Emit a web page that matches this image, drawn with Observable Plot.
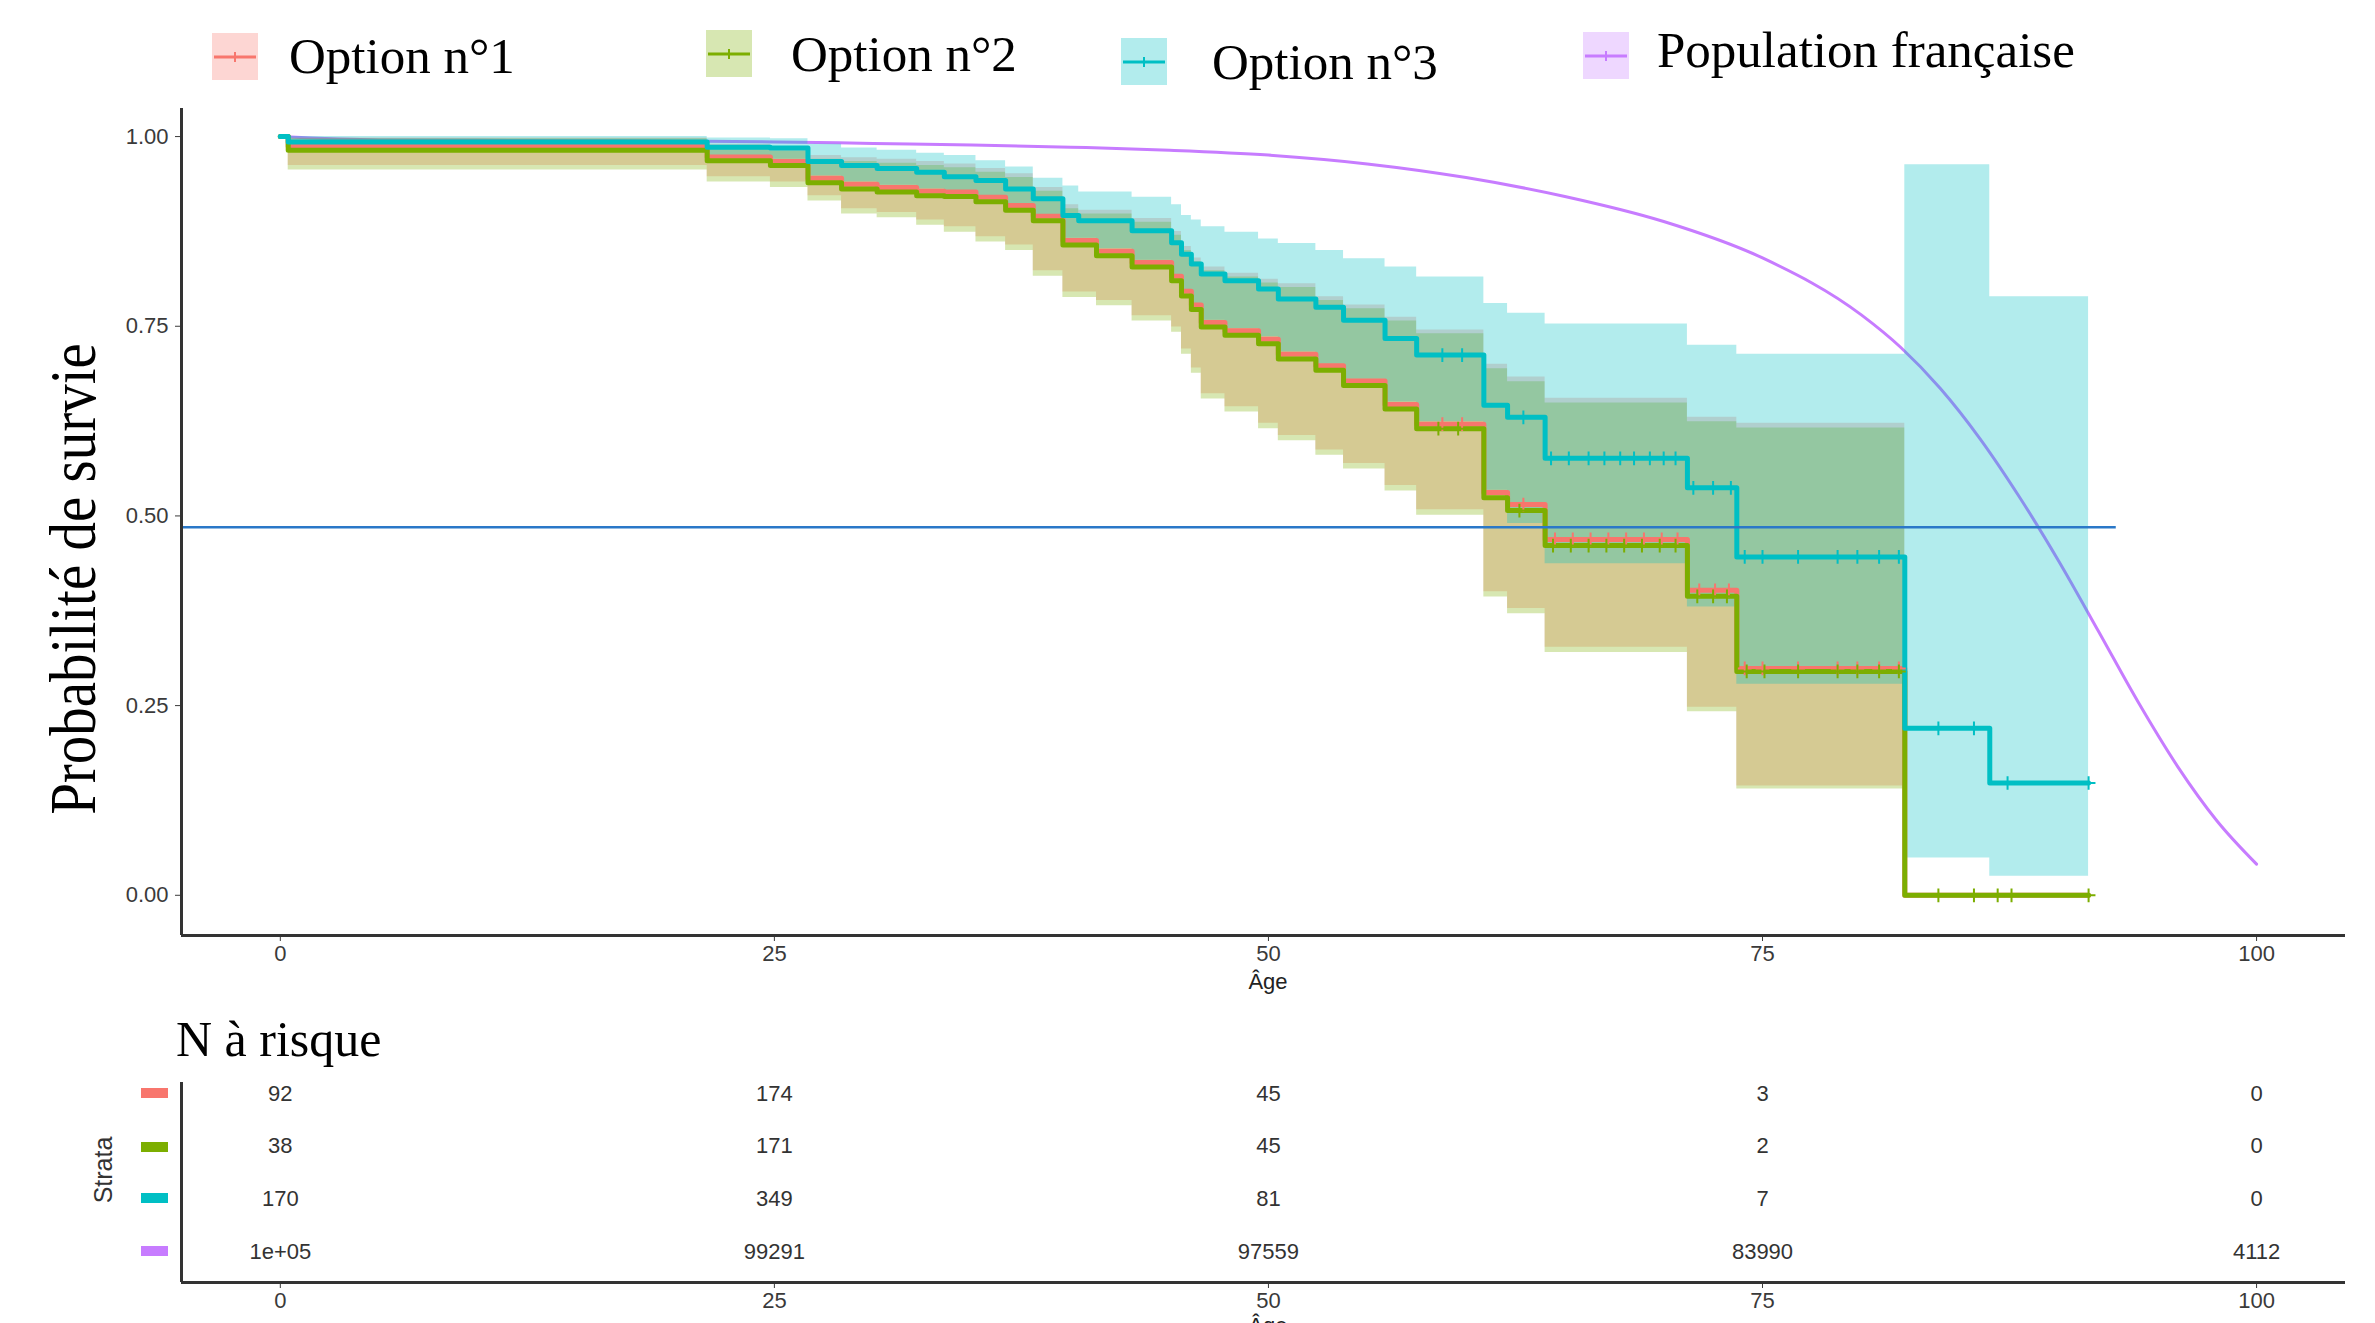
<!DOCTYPE html>
<html>
<head>
<meta charset="utf-8">
<script src="https://cdn.jsdelivr.net/npm/d3@7"></script>
<script src="https://cdn.jsdelivr.net/npm/@observablehq/plot@0.6"></script>
<style>
  html, body { margin: 0; padding: 0; background: #fff; }
  body { width: 2375px; height: 1323px; overflow: hidden; position: relative; }
  .abs { position: absolute; white-space: nowrap; }
  .serif { font-family: "Liberation Serif", "DejaVu Serif", serif; color: #000; }
  .sans { font-family: "Liberation Sans", Arial, sans-serif; color: #333; }
  #main, #risk { position: absolute; left: 0; }
  #main { top: 0; }
  #risk { top: 1000px; }
</style>
</head>
<body>
<div id="main"></div>
<div id="risk"></div>
<div id="labels"></div>
<script>
// ---------------- DATA ----------------
const seriesNames = ["Option n°1", "Option n°2", "Option n°3", "Population française"];
const seriesColors = ["#F8766D", "#7CAE00", "#00BFC4", "#C77CFF"];

// shared step times (age, years)
const ages = [0, 0.4, 21.6, 24.8, 26.7, 28.4, 30.2, 32.2, 33.6, 35.2, 36.7, 38.1, 39.6, 40.4, 41.3, 43.1, 45.1, 45.6, 46.1, 46.6, 47.8, 49.5, 50.5, 52.4, 53.8, 55.9, 57.5, 60.9, 62.1, 64.0, 71.2, 73.7, 82.2, 86.5];
const endAge = 91.5;

const opt1Surv = [1.0, 0.987, 0.973, 0.967, 0.945, 0.937, 0.933, 0.928, 0.927, 0.92, 0.909, 0.895, 0.863, 0.863, 0.849, 0.834, 0.816, 0.796, 0.778, 0.755, 0.744, 0.733, 0.713, 0.698, 0.678, 0.647, 0.621, 0.531, 0.515, 0.469, 0.402, 0.299, 0.0, 0.0];
const opt1Lo   = [1.0, 0.962, 0.947, 0.94, 0.922, 0.905, 0.9, 0.89, 0.881, 0.868, 0.857, 0.823, 0.795, 0.795, 0.784, 0.764, 0.749, 0.72, 0.695, 0.661, 0.644, 0.622, 0.606, 0.587, 0.569, 0.54, 0.508, 0.40, 0.378, 0.327, 0.248, 0.144, null, null];
const opt1Hi   = [1.0, 0.998, 0.99, 0.985, 0.975, 0.972, 0.97, 0.967, 0.964, 0.958, 0.951, 0.933, 0.91, 0.903, 0.903, 0.892, 0.875, 0.855, 0.84, 0.828, 0.82, 0.812, 0.806, 0.789, 0.778, 0.762, 0.745, 0.70, 0.683, 0.655, 0.63, 0.622, null, null];

const opt2Surv = [1.0, 0.982, 0.968, 0.962, 0.939, 0.931, 0.927, 0.922, 0.921, 0.914, 0.903, 0.889, 0.857, 0.857, 0.843, 0.828, 0.81, 0.79, 0.772, 0.749, 0.738, 0.727, 0.707, 0.692, 0.672, 0.641, 0.615, 0.524, 0.507, 0.461, 0.394, 0.295, 0.0, 0.0];
const opt2Lo   = [1.0, 0.956, 0.94, 0.933, 0.915, 0.898, 0.893, 0.883, 0.874, 0.861, 0.85, 0.816, 0.788, 0.788, 0.777, 0.757, 0.742, 0.713, 0.688, 0.654, 0.637, 0.615, 0.599, 0.58, 0.562, 0.533, 0.501, 0.393, 0.371, 0.32, 0.242, 0.14, null, null];
const opt2Hi   = [1.0, 0.997, 0.986, 0.981, 0.97, 0.967, 0.965, 0.962, 0.959, 0.953, 0.946, 0.928, 0.905, 0.898, 0.898, 0.887, 0.87, 0.85, 0.835, 0.823, 0.815, 0.807, 0.801, 0.784, 0.773, 0.757, 0.74, 0.694, 0.677, 0.649, 0.624, 0.616, null, null];

const opt3Surv = [1.0, 0.993, 0.986, 0.985, 0.967, 0.962, 0.958, 0.953, 0.947, 0.942, 0.931, 0.918, 0.896, 0.889, 0.889, 0.876, 0.86, 0.845, 0.832, 0.819, 0.81, 0.799, 0.786, 0.775, 0.758, 0.734, 0.712, 0.646, 0.63, 0.576, 0.537, 0.446, 0.22, 0.148];
const opt3Lo   = [1.0, 0.98, 0.974, 0.97, 0.948, 0.94, 0.936, 0.931, 0.929, 0.922, 0.911, 0.897, 0.866, 0.866, 0.852, 0.837, 0.818, 0.798, 0.78, 0.758, 0.747, 0.736, 0.716, 0.70, 0.68, 0.65, 0.624, 0.534, 0.49, 0.437, 0.38, 0.278, 0.049, 0.025];
const opt3Hi   = [1.0, 1.0, 0.998, 0.997, 0.99, 0.985, 0.982, 0.978, 0.975, 0.968, 0.96, 0.945, 0.935, 0.927, 0.927, 0.92, 0.91, 0.896, 0.89, 0.881, 0.874, 0.865, 0.859, 0.85, 0.839, 0.828, 0.815, 0.78, 0.767, 0.753, 0.725, 0.713, 0.963, 0.789];

// censoring times (+ marks)
const cens1 = [58.8, 59.8, 62.9, 64.5, 65.4, 66.3, 67.2, 68.1, 69.0, 69.9, 70.7, 71.8, 72.6, 73.3, 74.1, 75.0, 76.8, 78.8, 79.8, 80.9, 81.9];
const cens2 = [58.6, 59.6, 62.7, 64.4, 65.3, 66.2, 67.1, 68.0, 68.9, 69.8, 70.6, 71.7, 72.5, 73.2, 74.2, 75.1, 76.8, 78.8, 79.8, 80.9, 81.9, 83.9, 85.7, 86.9, 87.6, 91.5];
const cens3 = [58.8, 59.8, 62.9, 64.3, 65.2, 66.2, 67.0, 67.8, 68.5, 69.3, 70.0, 70.6, 71.5, 72.5, 73.4, 74.1, 75.0, 76.8, 78.8, 79.8, 80.9, 81.9, 83.9, 85.7, 87.4, 91.5];

// French population survival
const popAges = [0, 5, 10, 15, 20, 25, 30, 35, 40, 45, 50, 55, 60, 65, 70, 75, 80, 82, 84, 86, 88, 90, 92, 94, 96, 98, 100];
const popSurv = [1.0, 0.9955, 0.995, 0.9946, 0.994, 0.9929, 0.991, 0.989, 0.986, 0.982, 0.9756, 0.964, 0.946, 0.921, 0.888, 0.840, 0.765, 0.722, 0.668, 0.602, 0.525, 0.44, 0.348, 0.255, 0.17, 0.098, 0.0411];

// reference horizontal line
const refY = [0.485];
const refSpan = [-5, 92.9];

// axes
const xDomain = [-5, 104.5];
const yDomain = [-0.053, 1.037];
const xTicks = [0, 25, 50, 75, 100];
const yTicks = [0, 0.25, 0.5, 0.75, 1];

// number at risk table
const riskAges = [0, 25, 50, 75, 100];
const risk1 = [92, 174, 45, 3, 0];
const risk2 = [38, 171, 45, 2, 0];
const risk3 = [170, 349, 81, 7, 0];
const risk4 = [100000, 99291, 97559, 83990, 4112];

// ---------------- HELPERS ----------------
function stepRows(times, lo, hi, end) {
  const rows = [];
  for (let i = 0; i < times.length; i++) {
    if (lo[i] == null) {
      const p = rows[rows.length - 1];
      rows.push({t: times[i], lo: p.lo, hi: p.hi});
      return rows;
    }
    rows.push({t: times[i], lo: lo[i], hi: hi[i]});
  }
  const p = rows[rows.length - 1];
  rows.push({t: end, lo: p.lo, hi: p.hi});
  return rows;
}
function valueAt(times, vals, t) {
  let v = vals[0];
  for (let i = 0; i < times.length; i++) if (times[i] <= t) v = vals[i];
  return v;
}
const censRows = (cens, surv) => cens.map(t => ({t, s: valueAt(ages, surv, t)}));

const band1 = stepRows(ages, opt1Lo, opt1Hi, endAge);
const band2 = stepRows(ages, opt2Lo, opt2Hi, endAge);
const band3 = stepRows(ages, opt3Lo, opt3Hi, endAge);
const line1 = stepRows(ages, opt1Surv, opt1Surv, endAge);
const line2 = stepRows(ages, opt2Surv, opt2Surv, endAge);
const line3 = stepRows(ages, opt3Surv, opt3Surv, endAge);
const popRows = popAges.map((t, i) => ({t, s: popSurv[i]}));

const axisColor = "#333";

// ---------------- MAIN PLOT ----------------
const main = Plot.plot({
  width: 2375,
  height: 1000,
  marginTop: 108,
  marginBottom: 65,
  marginLeft: 181,
  marginRight: 30,
  style: {fontFamily: "Liberation Sans, Arial, sans-serif", fontSize: "22px", color: "#3a3a3a", background: "transparent"},
  x: {domain: xDomain, ticks: xTicks, tickSize: 6, tickPadding: 4, label: null, tickFormat: d => String(d)},
  y: {domain: yDomain, ticks: yTicks, tickSize: 6, tickPadding: 7, label: null, tickFormat: d3.format(".2f")},
  marks: [
    Plot.line(popRows, {x: "t", y: "s", curve: "monotone-x", stroke: seriesColors[3], strokeWidth: 3}),
    Plot.areaY(band1, {x: "t", y1: "lo", y2: "hi", curve: "step-after", fill: seriesColors[0], fillOpacity: 0.3}),
    Plot.areaY(band2, {x: "t", y1: "lo", y2: "hi", curve: "step-after", fill: seriesColors[1], fillOpacity: 0.3}),
    Plot.areaY(band3, {x: "t", y1: "lo", y2: "hi", curve: "step-after", fill: seriesColors[2], fillOpacity: 0.3}),
    Plot.line(line1, {x: "t", y: "lo", curve: "step-after", stroke: seriesColors[0], strokeWidth: 5}),
    Plot.line(line2, {x: "t", y: "lo", curve: "step-after", stroke: seriesColors[1], strokeWidth: 5}),
    Plot.line(line3, {x: "t", y: "lo", curve: "step-after", stroke: seriesColors[2], strokeWidth: 5}),
    Plot.dot(censRows(cens1, opt1Surv), {x: "t", y: "s", symbol: "plus", r: 4.5, stroke: seriesColors[0], strokeWidth: 2}),
    Plot.dot(censRows(cens2, opt2Surv), {x: "t", y: "s", symbol: "plus", r: 4.5, stroke: seriesColors[1], strokeWidth: 2}),
    Plot.dot(censRows(cens3, opt3Surv), {x: "t", y: "s", symbol: "plus", r: 4.5, stroke: seriesColors[2], strokeWidth: 2}),
    Plot.ruleY(refY, {x1: () => refSpan[0], x2: () => refSpan[1], stroke: "#2A78C8", strokeWidth: 2.5}),
    Plot.ruleX([xDomain[0]], {stroke: axisColor, strokeWidth: 3}),
    Plot.ruleY([yDomain[0]], {stroke: axisColor, strokeWidth: 3})
  ]
});
document.getElementById("main").appendChild(main);

// ---------------- RISK TABLE ----------------
const riskRows = [];
[risk1, risk2, risk3, risk4].forEach((arr, row) => {
  arr.forEach((n, j) => riskRows.push({age: riskAges[j], row, label: n === 100000 ? "1e+05" : String(n)}));
});
const rowDomain = [-0.209, 3.589];
const risk = Plot.plot({
  width: 2375,
  height: 323,
  marginTop: 82,
  marginBottom: 41,
  marginLeft: 181,
  marginRight: 30,
  style: {fontFamily: "Liberation Sans, Arial, sans-serif", fontSize: "22px", color: "#3a3a3a", background: "transparent"},
  x: {domain: xDomain, ticks: xTicks, tickSize: 6, tickPadding: 4, label: null, tickFormat: d => String(d)},
  y: {domain: rowDomain, reverse: true, axis: null},
  marks: [
    Plot.text(riskRows, {x: "age", y: "row", text: "label", fontSize: 22, fill: "#333"}),
    Plot.ruleX([xDomain[0]], {stroke: axisColor, strokeWidth: 3}),
    Plot.ruleY([rowDomain[1]], {stroke: axisColor, strokeWidth: 3})
  ]
});
document.getElementById("risk").appendChild(risk);

// ---------------- LABELS & LEGEND ----------------
const labels = document.getElementById("labels");
function addDiv(html, cls, style) {
  const d = document.createElement("div");
  d.className = "abs " + cls;
  d.innerHTML = html;
  Object.assign(d.style, style);
  labels.appendChild(d);
  return d;
}
const legendKeys = [[212, 33], [706, 30], [1121, 38], [1583, 32]];
const legendText = [[289, 31], [791, 29], [1212, 37], [1657, 25]];
seriesNames.forEach((name, i) => {
  const c = seriesColors[i];
  const rgb = d3.rgb(c);
  const pale = `rgba(${rgb.r},${rgb.g},${rgb.b},0.3)`;
  addDiv(`<svg width="46" height="47"><rect width="46" height="47" fill="${pale}"/><line x1="2" x2="44" y1="24" y2="24" stroke="${c}" stroke-width="3"/><line x1="23" x2="23" y1="19" y2="29" stroke="${c}" stroke-width="2"/></svg>`,
    "", {left: legendKeys[i][0] + "px", top: legendKeys[i][1] + "px", lineHeight: "0"});
  addDiv(name, "serif", {left: legendText[i][0] + "px", top: legendText[i][1] + "px", fontSize: "51px", lineHeight: "51px"});
});

addDiv("Probabilité de survie", "serif", {left: "73px", top: "579px", fontSize: "57px", lineHeight: "57px",
  transform: "translate(-50%,-50%) rotate(-90deg) scale(1,1.15)"});
addDiv("Âge", "sans", {left: "1268px", top: "971px", fontSize: "22px", lineHeight: "22px", transform: "translateX(-50%)", color: "#222"});
addDiv("N à risque", "serif", {left: "176px", top: "1014px", fontSize: "50px", lineHeight: "50px"});
addDiv("Strata", "sans", {left: "103px", top: "1170px", fontSize: "25px", lineHeight: "25px", transform: "translate(-50%,-50%) rotate(-90deg)", color: "#333"});
addDiv("Âge", "sans", {left: "1268px", top: "1315px", fontSize: "22px", lineHeight: "22px", transform: "translateX(-50%)", color: "#222"});

const swatchY = [1093, 1147, 1198, 1251];
seriesColors.forEach((c, i) => {
  addDiv("", "", {left: "141px", top: (swatchY[i] - 5) + "px", width: "27px", height: "10px", background: c});
});
</script>
</body>
</html>
